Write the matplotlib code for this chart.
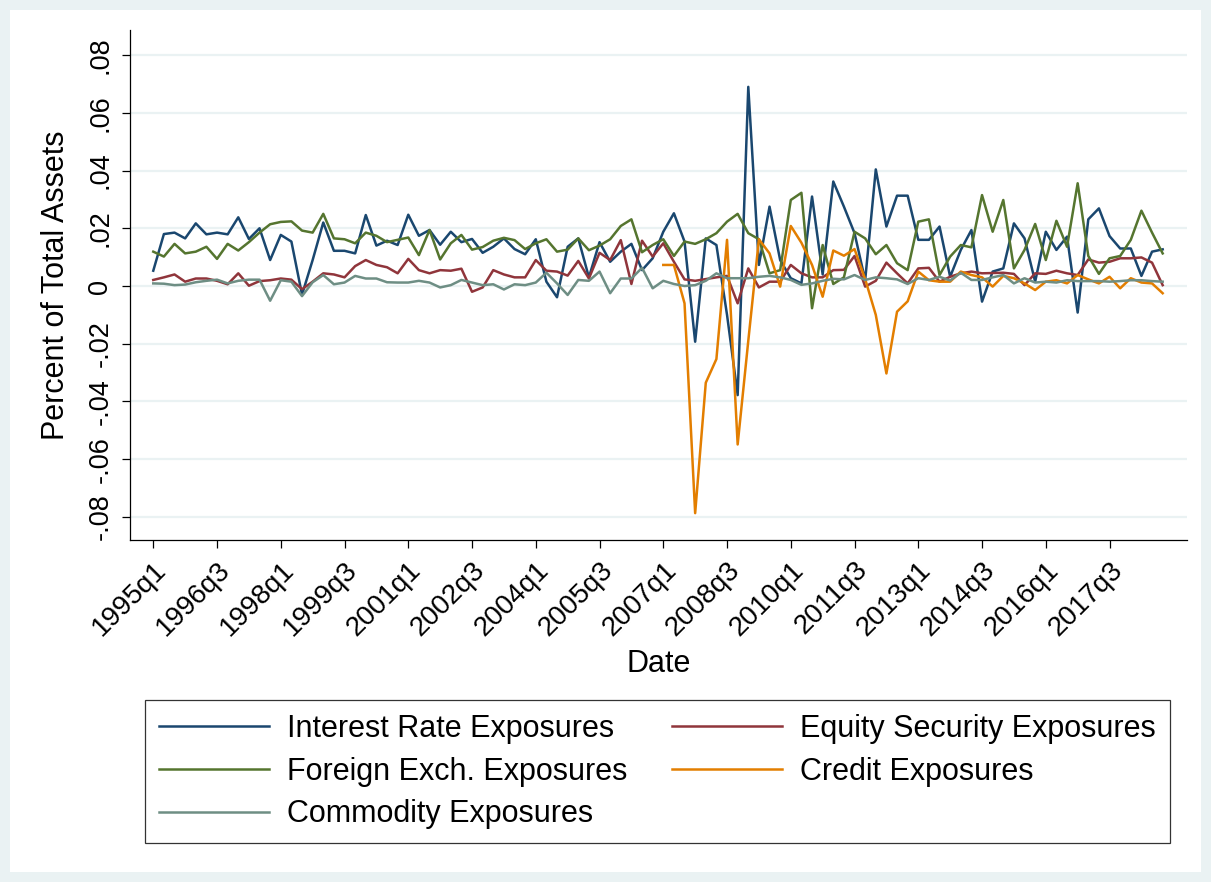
"""Trading-book exposures as a share of total assets, 1995q1-2018q4 (Stata-style line chart)."""

import matplotlib.pyplot as plt
import numpy as np
import pandas as pd
from matplotlib.patches import Rectangle

QUARTERS = pd.period_range("1995Q1", "2018Q4", freq="Q")

INTEREST_RATE = [
    0.0053, 0.018, 0.0185, 0.0165, 0.0217, 0.0179, 0.0185, 0.0179, 0.0238, 0.0163,
    0.020, 0.009, 0.0177, 0.0154, -0.003, 0.009, 0.022, 0.0122, 0.0122, 0.0113,
    0.0246, 0.014, 0.0157, 0.0142, 0.0247, 0.0174, 0.0194, 0.0143, 0.0188, 0.0152,
    0.0163, 0.0115, 0.0136, 0.0165, 0.0128, 0.011, 0.0162, 0.0015, -0.0039, 0.0136,
    0.0165, 0.003, 0.0152, 0.0084, 0.0119, 0.0146, 0.0055, 0.0096, 0.0188, 0.0252,
    0.0154, -0.0193, 0.0165, 0.0142, -0.010, -0.0378, 0.069, 0.0073, 0.0275, 0.009,
    0.0027, 0.0009, 0.031, 0.004, 0.0362, 0.0275, 0.0183, 0.002, 0.0404, 0.0206,
    0.0313, 0.0313, 0.016, 0.016, 0.0206, 0.0032, 0.0125, 0.0194, -0.0054, 0.005,
    0.0061, 0.0217, 0.0165, 0.0015, 0.0188, 0.0125, 0.0171, -0.0092, 0.0231, 0.0269,
    0.0173, 0.013, 0.013, 0.0035, 0.0119, 0.0127,
]
EQUITY = [
    0.0021, 0.003, 0.004, 0.0015, 0.0026, 0.0026, 0.0018, 0.0006, 0.0044, 0.0001,
    0.0017, 0.002, 0.0026, 0.0022, -0.0011, 0.0015, 0.0044, 0.004, 0.003, 0.0069,
    0.009, 0.0073, 0.0065, 0.0044, 0.0094, 0.0055, 0.0044, 0.0055, 0.0053, 0.006,
    -0.002, -0.0005, 0.0055, 0.004, 0.003, 0.003, 0.009, 0.0053, 0.005, 0.0036,
    0.0087, 0.0026, 0.0115, 0.009, 0.0159, 0.0007, 0.0157, 0.0102, 0.0148, 0.0084,
    0.0023, 0.0018, 0.0024, 0.003, 0.0035, -0.006, 0.0061, -0.0005, 0.0015, 0.0015,
    0.0073, 0.0044, 0.003, 0.003, 0.0055, 0.0056, 0.0104, -0.0002, 0.0018, 0.0081,
    0.0044, 0.0009, 0.0061, 0.0063, 0.0015, 0.0032, 0.0044, 0.005, 0.0044, 0.0045,
    0.0046, 0.0042, 0.0003, 0.0044, 0.0042, 0.0053, 0.0044, 0.0038, 0.0092, 0.0081,
    0.0084, 0.0096, 0.0096, 0.0099, 0.0081, 0.0003,
]
FOREIGN_EXCH = [
    0.0119, 0.0102, 0.0146, 0.0113, 0.0119, 0.0136, 0.0094, 0.0146, 0.0123, 0.0152,
    0.0185, 0.0214, 0.0222, 0.0224, 0.0192, 0.0185, 0.025, 0.0165, 0.0162, 0.0148,
    0.0185, 0.0174, 0.0152, 0.016, 0.0168, 0.0107, 0.0194, 0.0092, 0.0148, 0.0177,
    0.0126, 0.0135, 0.0157, 0.0167, 0.0159, 0.0128, 0.0148, 0.0162, 0.0119, 0.0126,
    0.0165, 0.0124, 0.014, 0.0162, 0.0208, 0.0231, 0.0117, 0.0142, 0.0162, 0.0104,
    0.0154, 0.0146, 0.0162, 0.0183, 0.0223, 0.025, 0.0183, 0.0162, 0.0044, 0.0055,
    0.0298, 0.0323, -0.0077, 0.0142, 0.0007, 0.003, 0.0188, 0.0165, 0.011, 0.0142,
    0.0079, 0.0055, 0.0223, 0.0231, 0.0038, 0.0102, 0.0142, 0.0134, 0.0315, 0.0188,
    0.0298, 0.0061, 0.0125, 0.0215, 0.009, 0.0226, 0.0136, 0.0356, 0.0104, 0.0042,
    0.0096, 0.0104, 0.016, 0.0261, 0.0185, 0.0113,
]
# credit exposures are only reported from 2007q1 on
CREDIT = [np.nan] * 48 + [
    0.0073, 0.0073, -0.006, -0.0787, -0.0335, -0.0253, 0.016, -0.0549, -0.019, 0.0162,
    0.0113, -0.0002, 0.0208, 0.015, 0.0073, -0.0037, 0.0123, 0.0105, 0.0128, 0.0024,
    -0.010, -0.0303, -0.0089, -0.0053, 0.005, 0.002, 0.0015, 0.0015, 0.005, 0.0038,
    0.003, -0.0002, 0.0035, 0.0027, 0.0009, -0.0014, 0.0015, 0.002, 0.0009, 0.0038,
    0.0023, 0.0009, 0.0032, -0.0008, 0.0027, 0.0012, 0.0009, -0.0025,
]
COMMODITY = [
    0.0009, 0.0008, 0.0003, 0.0005, 0.0013, 0.0018, 0.0022, 0.0009, 0.0018, 0.0022,
    0.0022, -0.0051, 0.002, 0.0015, -0.0035, 0.0013, 0.0038, 0.0006, 0.0012, 0.0035,
    0.0026, 0.0026, 0.0013, 0.0012, 0.0012, 0.0018, 0.0012, -0.0005, 0.0003, 0.0021,
    0.0012, 0.0003, 0.0006, -0.0012, 0.0006, 0.0003, 0.0012, 0.0046, 0.0009, -0.0031,
    0.0021, 0.0018, 0.005, -0.0025, 0.0026, 0.0026, 0.0063, -0.0008, 0.0018, 0.0007,
    0.0, 0.0003, 0.0018, 0.0044, 0.0027, 0.0027, 0.0027, 0.0032, 0.0035, 0.003,
    0.0021, 0.0004, 0.0009, 0.0018, 0.0025, 0.0023, 0.0038, 0.0021, 0.003, 0.0027,
    0.0023, 0.0007, 0.0027, 0.0021, 0.0032, 0.0019, 0.0046, 0.0021, 0.0021, 0.003,
    0.0038, 0.0009, 0.0027, 0.0012, 0.0015, 0.0012, 0.002, 0.0017, 0.0017, 0.0017,
    0.0015, 0.0017, 0.002, 0.002, 0.0017, 0.0015,
]

SERIES_LABELS = [
    "Interest Rate Exposures",
    "Equity Security Exposures",
    "Foreign Exch. Exposures",
    "Credit Exposures",
    "Commodity Exposures",
]
YTICKS = [-0.08, -0.06, -0.04, -0.02, 0.0, 0.02, 0.04, 0.06, 0.08]
YTICK_LABELS = ["-.08", "-.06", "-.04", "-.02", "0", ".02", ".04", ".06", ".08"]
XTICK_LABELS = [
    "1995q1", "1996q3", "1998q1", "1999q3", "2001q1", "2002q3", "2004q1", "2005q3",
    "2007q1", "2008q3", "2010q1", "2011q3", "2013q1", "2014q3", "2016q1", "2017q3",
]

# Stata s2color palette
COLORS = ["#1a476f", "#90353b", "#55752f", "#e37e00", "#6e8e84"]
BG = "#eaf2f3"

plt.rcParams["font.family"] = ["Liberation Sans", "DejaVu Sans"]

fig = plt.figure(figsize=(12.11, 8.82), dpi=100, facecolor=BG)
fig.patches.append(
    Rectangle((10 / 1211, 10 / 882), 1191 / 1211, 862 / 882,
              transform=fig.transFigure, facecolor="white", edgecolor="none", zorder=-1)
)
ax = fig.add_axes([130 / 1211, 1 - 540 / 882, 1057 / 1211, 510 / 882])
ax.set_facecolor("white")

x = np.arange(len(QUARTERS))
series = [INTEREST_RATE, EQUITY, FOREIGN_EXCH, CREDIT, COMMODITY]
lines = []
for vals, color, label in zip(series, COLORS, SERIES_LABELS):
    (ln,) = ax.plot(x, vals, color=color, linewidth=1.8, label=label, zorder=3)
    lines.append(ln)

ax.set_xlim(-2.19, 97.29)
ax.set_ylim(-0.088, 0.0887)

ax.set_yticks(YTICKS)
ax.set_yticklabels(YTICK_LABELS, rotation=90, va="center", fontsize=19.5)
ax.yaxis.grid(True, color=BG, linewidth=1.6, zorder=0)
ax.set_axisbelow(True)

tick_pos = [i for i, q in enumerate(QUARTERS) if f"{q.year}q{q.quarter}" in XTICK_LABELS]
ax.set_xticks(tick_pos)
ax.set_xticklabels(XTICK_LABELS, rotation=45, ha="right", va="top",
                   rotation_mode="anchor", fontsize=20)

for side in ("top", "right"):
    ax.spines[side].set_visible(False)
for side in ("left", "bottom"):
    ax.spines[side].set_linewidth(0.9)
ax.tick_params(direction="out", length=6, width=0.9, pad=6)

ax.set_xlabel("Date", fontsize=22, labelpad=6)
ax.set_ylabel("Percent of Total Assets", fontsize=22, labelpad=12)

# legend order: column-major fill gives IR/Equity, FX/Credit, Commodity rows
order = [0, 2, 4, 1, 3]
leg = fig.legend(
    [lines[i] for i in order],
    [SERIES_LABELS[i] for i in order],
    ncol=2,
    loc="upper center",
    bbox_to_anchor=(657.5 / 1211, 1 - 700 / 882),
    borderaxespad=0,
    fontsize=22,
    frameon=True,
    fancybox=False,
    edgecolor="black",
    handlelength=3.6,
    handletextpad=0.6,
    columnspacing=1.45,
    borderpad=0.45,
    labelspacing=0.42,
)
leg.get_frame().set_linewidth(0.9)

fig.savefig("out.png", dpi=100, facecolor=BG)
